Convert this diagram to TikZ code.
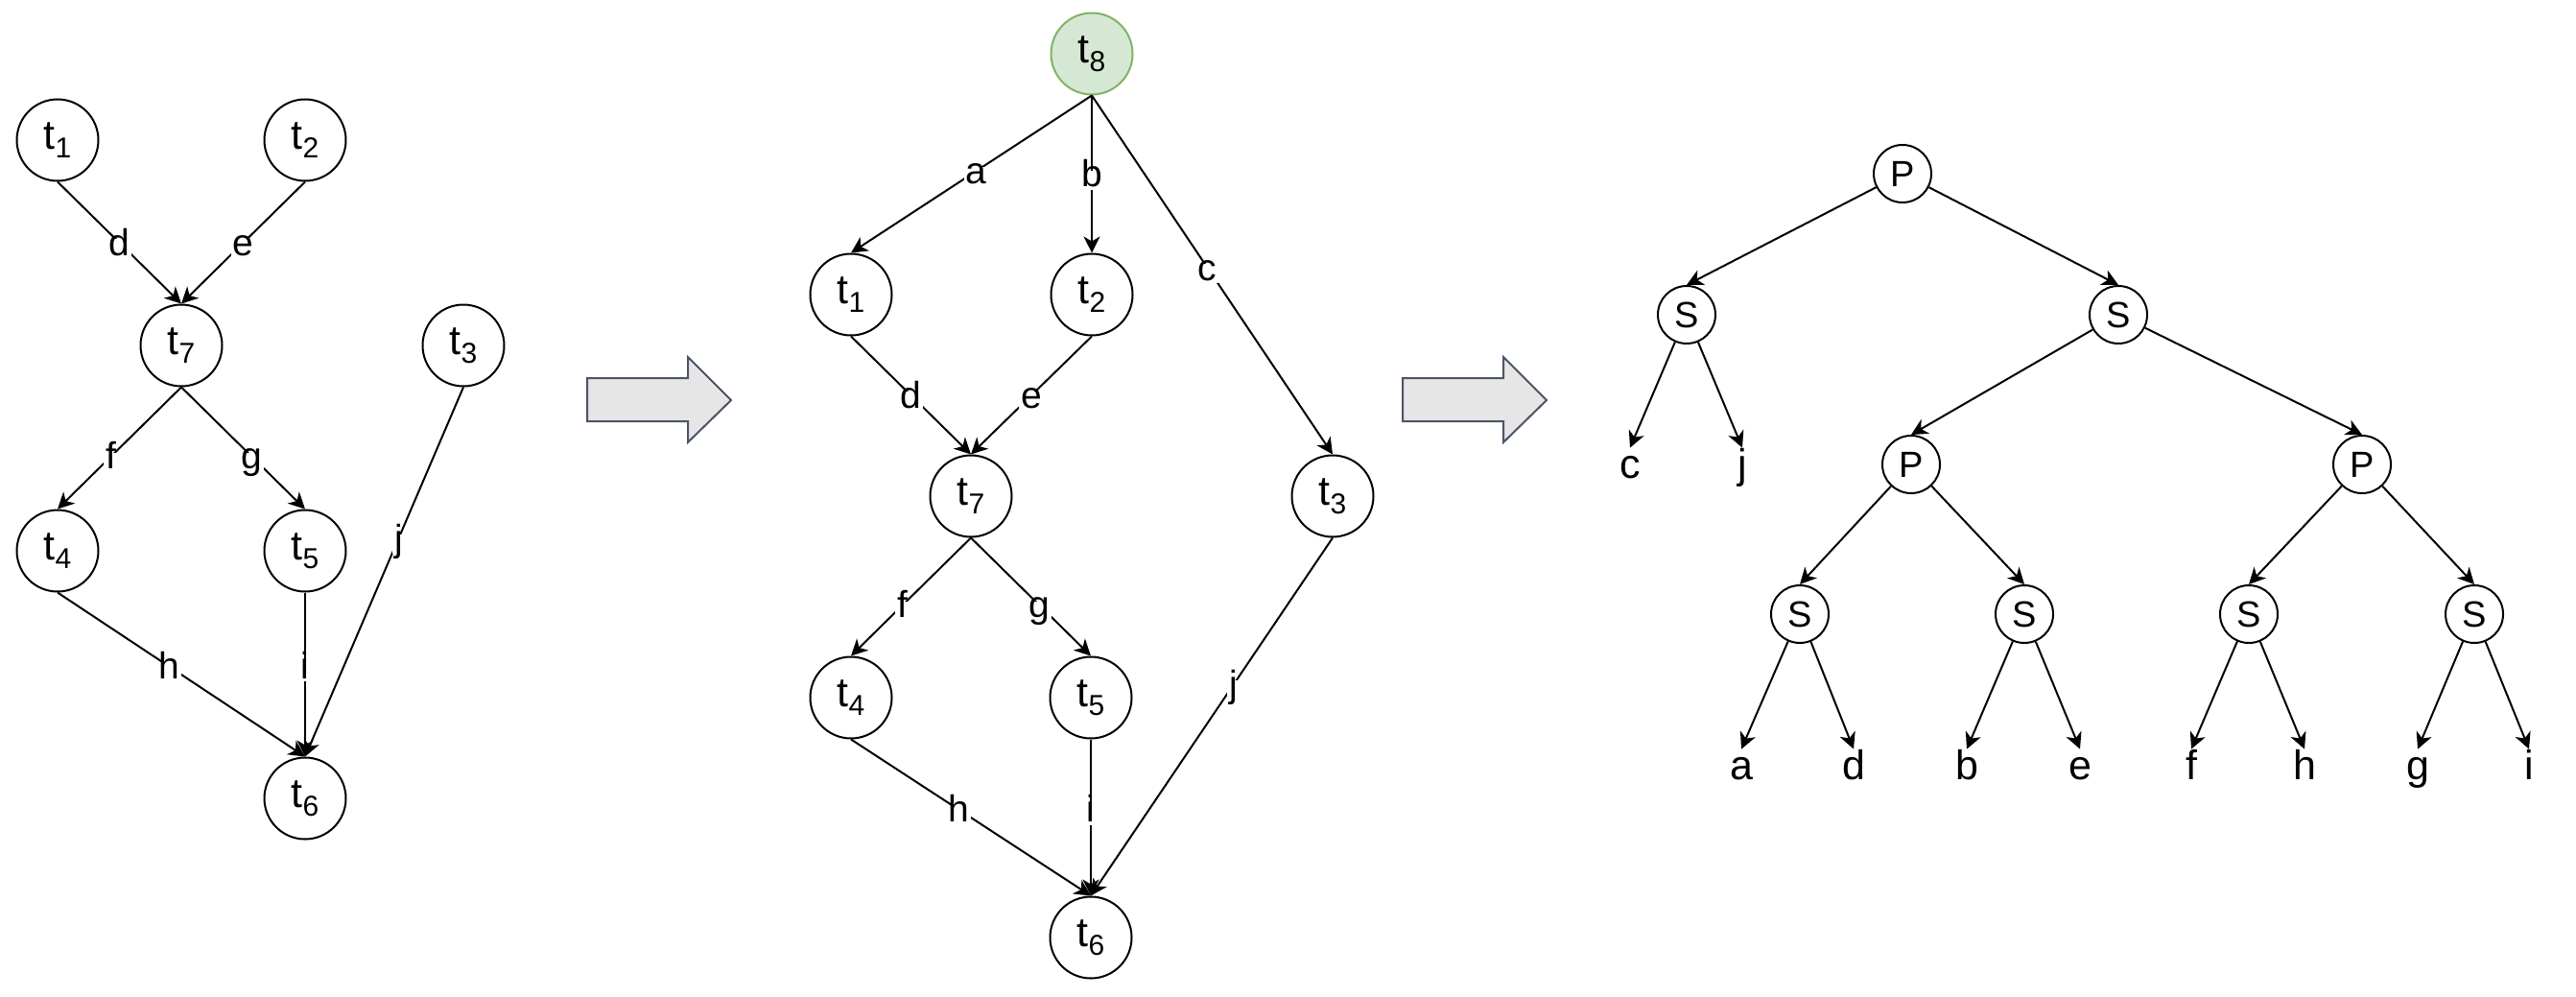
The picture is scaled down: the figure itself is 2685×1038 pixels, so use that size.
\documentclass[tikz,border=0pt]{standalone}
\usepackage{fontspec}
\setmainfont{Liberation Sans}
\usetikzlibrary{arrows.meta}

\definecolor{startfill}{HTML}{D5E8D4}
\definecolor{startline}{HTML}{82B366}
\definecolor{blockfill}{HTML}{E6E6E6}
\definecolor{blockline}{HTML}{4A5568}

% task name t with a lowered index
\newcommand{\tsub}[1]{t\raisebox{-0.2em}{\fontsize{15pt}{15pt}\selectfont #1}}

\begin{document}
\begin{tikzpicture}[x=0.5pt, y=-0.5pt, line width=1pt,
  task/.style={circle, draw, line width=1pt, minimum size=42.5pt, inner sep=0pt,
    font=\fontsize{21.5pt}{25pt}\selectfont},
  start/.style={task, fill=startfill, draw=startline},
  flow/.style={-{Stealth[length=8.5pt, width=8.5pt, inset=2.5pt]}},
  lbl/.style={fill=white, inner sep=1pt, text height=0.75em, text depth=0.05em,
    yshift=-3pt, font=\fontsize{19.5pt}{23pt}\selectfont},
  op/.style={circle, draw, line width=1pt, minimum size=30pt, inner sep=0pt,
    font=\fontsize{19pt}{23pt}\selectfont},
  leaf/.style={inner xsep=0pt, inner ysep=8pt, text height=0.72em, text depth=0.21em,
    anchor=base, font=\fontsize{21.5pt}{25pt}\selectfont},
  blockarrow/.style={draw=blockline, fill=blockfill, line width=1pt, line join=miter}]

\useasboundingbox (0,0) rectangle (2685,1038);

% ---------- original task graph ----------
\node[task] (a1) at (60,146)  {\tsub{1}};
\node[task] (a2) at (318,146) {\tsub{2}};
\node[task] (a7) at (189,360) {\tsub{7}};
\node[task] (a3) at (483,360) {\tsub{3}};
\node[task] (a4) at (60,574)  {\tsub{4}};
\node[task] (a5) at (318,574) {\tsub{5}};
\node[task] (a6) at (318,832) {\tsub{6}};

\draw[flow] (a1.south) -- node[lbl, pos=0.5]  {d} (a7.north);
\draw[flow] (a2.south) -- node[lbl, pos=0.5]  {e} (a7.north);
\draw[flow] (a7.south) -- node[lbl, pos=0.57] {f} (a4.north);
\draw[flow] (a7.south) -- node[lbl, pos=0.57] {g} (a5.north);
\draw[flow] (a4.south) -- node[lbl, pos=0.45] {h} (a6.north);
\draw[flow] (a5.south) -- node[lbl, pos=0.45] {i} (a6.north);
\draw[flow] (a3.south) -- node[lbl, pos=0.41] {j} (a6.north);

% ---------- transformation arrows ----------
\draw[blockarrow] (612,394) -- (717,394) -- (717,372) -- (762,417)
  -- (717,461) -- (717,439) -- (612,439) -- cycle;
\draw[blockarrow] (1462,394) -- (1567,394) -- (1567,372) -- (1612,417)
  -- (1567,461) -- (1567,439) -- (1462,439) -- cycle;

% ---------- graph with single source ----------
\node[start] (b8) at (1138,56)  {\tsub{8}};
\node[task]  (b1) at (887,307)  {\tsub{1}};
\node[task]  (b2) at (1138,307) {\tsub{2}};
\node[task]  (b7) at (1012,517) {\tsub{7}};
\node[task]  (b3) at (1389,517) {\tsub{3}};
\node[task]  (b4) at (887,727)  {\tsub{4}};
\node[task]  (b5) at (1137,727) {\tsub{5}};
\node[task]  (b6) at (1137,977) {\tsub{6}};

\draw[flow] (b8.south) -- node[lbl, pos=0.48] {a} (b1.north);
\draw[flow] (b8.south) -- node[lbl, pos=0.5]  {b} (b2.north);
\draw[flow] (b8.south) -- node[lbl, pos=0.48] {c} (b3.north);
\draw[flow] (b1.south) -- node[lbl, pos=0.5]  {d} (b7.north);
\draw[flow] (b2.south) -- node[lbl, pos=0.5]  {e} (b7.north);
\draw[flow] (b7.south) -- node[lbl, pos=0.57] {f} (b4.north);
\draw[flow] (b7.south) -- node[lbl, pos=0.57] {g} (b5.north);
\draw[flow] (b4.south) -- node[lbl, pos=0.45] {h} (b6.north);
\draw[flow] (b5.south) -- node[lbl, pos=0.45] {i} (b6.north);
\draw[flow] (b3.south) -- node[lbl, pos=0.41] {j} (b6.north);

% ---------- series-parallel decomposition tree ----------
\node[op] (root) at (1983,181) {P};
\node[op] (sL)   at (1758,328) {S};
\node[op] (sR)   at (2208,328) {S};
\node[op] (pL)   at (1992,484) {P};
\node[op] (pR)   at (2462,484) {P};
\node[op] (s1)   at (1876,640) {S};
\node[op] (s2)   at (2110,640) {S};
\node[op] (s3)   at (2344,640) {S};
\node[op] (s4)   at (2579,640) {S};

\node[leaf] (lc) at (1699,498) {c};
\node[leaf] (lj) at (1816,498) {j};
\node[leaf] (la) at (1815,812) {a};
\node[leaf] (ld) at (1932,812) {d};
\node[leaf] (lb) at (2050,812) {b};
\node[leaf] (le) at (2168,812) {e};
\node[leaf] (lf) at (2284,812) {f};
\node[leaf] (lh) at (2402,812) {h};
\node[leaf] (lg) at (2520,812) {g};
\node[leaf] (li) at (2636,812) {i};

\draw[flow] (root) -- (sL.north);
\draw[flow] (root) -- (sR.north);
\draw[flow] (sL) -- (lc.north);
\draw[flow] (sL) -- (lj.north);
\draw[flow] (sR) -- (pL.north);
\draw[flow] (sR) -- (pR.north);
\draw[flow] (pL) -- (s1.north);
\draw[flow] (pL) -- (s2.north);
\draw[flow] (pR) -- (s3.north);
\draw[flow] (pR) -- (s4.north);
\draw[flow] (s1) -- (la.north);
\draw[flow] (s1) -- (ld.north);
\draw[flow] (s2) -- (lb.north);
\draw[flow] (s2) -- (le.north);
\draw[flow] (s3) -- (lf.north);
\draw[flow] (s3) -- (lh.north);
\draw[flow] (s4) -- (lg.north);
\draw[flow] (s4) -- (li.north);
\end{tikzpicture}
\end{document}
